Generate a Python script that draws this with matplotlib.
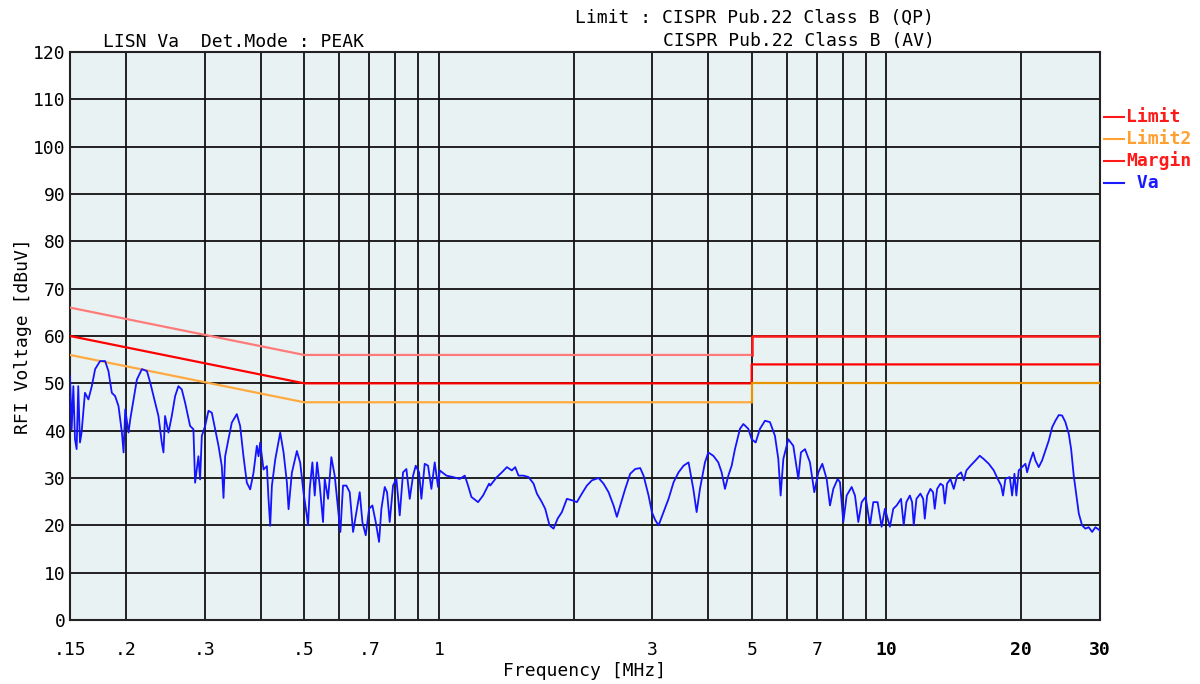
import matplotlib
matplotlib.use("Agg")
import matplotlib.pyplot as plt
from matplotlib.lines import Line2D

# Datos (MHz, dBuV)
va_freq = [
    0.1500, 0.1513, 0.1526, 0.1539, 0.1552, 0.1565, 0.1579, 0.1592, 0.1620, 0.1649,
    0.1678, 0.1707, 0.1751, 0.1797, 0.1828, 0.1860, 0.1892, 0.1925, 0.1959, 0.1976,
    0.1993, 0.2027, 0.2045, 0.2080, 0.2116, 0.2171, 0.2228, 0.2267, 0.2324, 0.2364,
    0.2405, 0.2426, 0.2446, 0.2489, 0.2532, 0.2576, 0.2620, 0.2666, 0.2712, 0.2782,
    0.2830, 0.2855, 0.2904, 0.2929, 0.2955, 0.3006, 0.3058, 0.3111, 0.3165, 0.3220,
    0.3275, 0.3304, 0.3332, 0.3389, 0.3448, 0.3538, 0.3599, 0.3661, 0.3725, 0.3790,
    0.3855, 0.3922, 0.3956, 0.3990, 0.4059, 0.4130, 0.4165, 0.4201, 0.4237, 0.4311,
    0.4423, 0.4500, 0.4578, 0.4617, 0.4696, 0.4819, 0.4902, 0.4987, 0.5073,
    0.5104, 0.5148, 0.5219, 0.5282, 0.5346, 0.5420, 0.5513, 0.5561, 0.5657, 0.5754,
    0.5854, 0.5955, 0.6027, 0.6110, 0.6216, 0.6324, 0.6434, 0.6545, 0.6658, 0.6750,
    0.6867, 0.6986, 0.7106, 0.7229, 0.7354, 0.7443, 0.7572, 0.7663, 0.7768, 0.7903,
    0.8040, 0.8179, 0.8320, 0.8464, 0.8611, 0.8760, 0.8881, 0.9034, 0.9143, 0.9301,
    0.9462, 0.9626, 0.9792, 0.9962, 1.0048, 1.0399, 1.0761, 1.1137, 1.1428, 1.1625,
    1.1825, 1.2237, 1.2556, 1.2950,
    1.3026, 1.3482, 1.3834, 1.4194, 1.4560, 1.4814, 1.5070, 1.5462, 1.5866, 1.6282,
    1.6564, 1.6992, 1.7286, 1.7678, 1.8046, 1.8422, 1.8834, 1.9326, 1.9830, 2.0346,
    2.0876, 2.1420, 2.1978, 2.2744, 2.3338, 2.3946, 2.4568, 2.4992, 2.5426, 2.6088,
    2.6768, 2.7468, 2.8182, 2.8670, 2.9418, 2.9924, 3.0444, 3.0972, 3.1778, 3.2604,
    3.3456, 3.4330, 3.5224, 3.6136,
    3.640, 3.703, 3.767, 3.832, 3.932, 4.000, 4.104, 4.211, 4.284, 4.358,
    4.434, 4.511, 4.588, 4.708, 4.790, 4.914, 4.999, 5.103, 5.218, 5.354,
    5.494, 5.636, 5.734, 5.803, 5.884, 6.036, 6.194, 6.356, 6.442, 6.578,
    6.748, 6.900, 7.045, 7.191, 7.353, 7.480, 7.610, 7.782, 7.875, 8.011,
    8.150, 8.362, 8.507, 8.654, 8.804, 8.986, 9.190, 9.347, 9.556, 9.756,
    9.924, 10.18, 10.36, 10.54,
    10.78, 10.93, 11.08, 11.28, 11.41, 11.51, 11.67, 11.91, 12.08, 12.18,
    12.33, 12.54, 12.71, 12.82, 12.98, 13.20, 13.38, 13.50, 13.66, 13.90,
    14.14, 14.39, 14.68, 14.89, 15.09, 15.41, 15.81, 16.16, 16.50, 16.93,
    17.37, 17.73, 18.04, 18.22, 18.44, 18.86, 19.09, 19.32, 19.51, 19.75,
    20.10, 20.44, 20.62, 20.90, 21.27, 21.52, 21.89, 22.27, 22.66, 23.05,
    23.45, 23.85, 24.27, 24.69, 25.11, 25.55, 25.86, 26.21, 26.57, 26.90,
    27.36, 27.83, 28.31, 28.81, 29.30, 30.00,
]
va_dbuv = [
    51.5, 40.3, 49.4, 38.2, 36.1, 49.4, 37.5, 39.6, 48.0, 46.6,
    49.4, 53.0, 54.7, 54.7, 52.6, 48.0, 47.3, 45.2, 39.6, 35.4,
    44.5, 39.6, 42.4, 46.6, 50.8, 53.0, 52.6, 50.1, 45.9, 43.1,
    37.5, 35.4, 43.1, 39.6, 43.1, 47.3, 49.4, 48.7, 45.9, 41.0,
    40.3, 29.0, 34.6, 29.7, 38.9, 41.0, 44.2, 43.8, 40.3, 36.8,
    32.5, 25.8, 34.6, 38.2, 41.7, 43.5, 41.0, 34.6, 29.0, 27.6,
    31.1, 36.8, 34.6, 37.5, 31.8, 32.5, 25.5, 19.9, 28.3, 33.9,
    39.6, 35.4, 29.0, 23.4, 31.1, 35.7, 33.2, 26.9, 22.0,
    20.0, 27.7, 33.3, 26.3, 33.3, 28.4, 20.7, 29.8, 25.6, 34.4,
    30.5, 23.5, 18.6, 28.4, 28.4, 27.0, 18.6, 22.8, 27.0, 20.7,
    17.9, 23.5, 24.2, 20.7, 16.5, 23.5, 28.1, 27.0, 20.7, 28.4,
    29.8, 22.1, 31.2, 31.9, 25.6, 30.5, 32.6, 31.2, 25.6, 33.0,
    32.6, 27.7, 33.3, 28.1, 31.6, 30.5, 30.2, 29.8, 30.5, 28.4,
    26.0, 24.9, 26.3, 28.8,
    28.4, 30.2, 31.2, 32.3, 31.6, 32.3, 30.5, 30.5, 30.2, 28.8,
    26.7, 24.9, 23.5, 20.0, 19.3, 21.4, 22.8, 25.6, 25.3, 24.9,
    26.7, 28.4, 29.5, 30.0, 28.8, 27.0, 24.2, 21.8, 24.2, 27.7,
    30.9, 31.9, 32.1, 30.5, 26.3, 22.8, 21.1, 20.0, 22.8, 25.6,
    29.1, 31.2, 32.6, 33.3,
    31.6, 27.7, 22.8, 27.7, 33.3, 35.4, 34.7, 33.3, 31.2, 27.7,
    30.5, 32.6, 36.1, 40.4, 41.4, 40.4, 38.2, 37.5, 40.4, 42.1,
    41.8, 38.9, 34.0, 26.3, 34.0, 38.2, 36.8, 29.8, 35.4, 36.1,
    33.3, 27.0, 31.2, 33.0, 29.8, 24.2, 27.7, 29.8, 29.1, 20.7,
    26.3, 28.1, 26.3, 20.7, 24.9, 26.0, 20.0, 24.9, 24.9, 19.7,
    23.5, 19.7, 23.5, 24.2,
    25.6, 20.0, 24.9, 26.3, 24.9, 20.0, 25.6, 26.7, 25.6, 21.4,
    26.3, 27.7, 27.0, 23.5, 27.7, 28.8, 28.4, 24.6, 28.8, 29.8,
    27.7, 30.5, 31.2, 29.5, 31.6, 32.6, 33.7, 34.7, 34.0, 33.0,
    31.6, 29.8, 28.4, 26.3, 29.8, 30.2, 26.3, 30.9, 26.3, 31.6,
    32.3, 33.0, 31.2, 33.3, 35.4, 33.7, 32.3, 33.7, 35.8, 37.9,
    40.7, 42.1, 43.3, 43.2, 41.8, 39.3, 36.1, 30.5, 26.3, 22.5,
    20.0, 19.3, 19.6, 18.6, 19.6, 18.9,
]

# Limites CISPR 22 Clase B
lim_freq = [0.15, 0.5, 5.0, 5.0, 30.0]
qp_dbuv = [66, 56, 56, 60, 60]
av_dbuv = [56, 46, 46, 50, 50]
margin_dbuv = [60, 50, 50, 54, 54]

tick_freqs = [0.15, 0.2, 0.3, 0.4, 0.5, 0.6, 0.7, 0.8, 0.9, 1, 2, 3, 4, 5, 6, 7, 8, 9, 10, 20, 30]
tick_labels = ['.15', '.2', '.3', '', '.5', '', '.7', '', '', '1', '', '3', '', '5', '', '7', '', '', '10', '20', '30']

legend_names = ['Limit', 'Limit2', 'Margin', 'Va']
legend_colors = ['#ff1a1a', '#ffa030', '#ff1a1a', '#1a1aff']

FONT = 'DejaVu Sans Mono'
W, H = 1200, 684

fig = plt.figure(figsize=(12, 6.84), dpi=100)
ax = fig.add_axes([70 / W, 1 - 620 / H, 1030 / W, 568 / H])
ax.set_facecolor('#e9f2f2')

# Lineas de limite
ax.plot(lim_freq[:3], qp_dbuv[:3], color='#ff7a7a', lw=1.6, zorder=3)
ax.plot(lim_freq[2:], qp_dbuv[2:], color='#ff1a1a', lw=1.8, zorder=3)
ax.plot(lim_freq, margin_dbuv, color='#ff0000', lw=1.6, zorder=3)
ax.plot(lim_freq[:3], av_dbuv[:3], color='#ffaa40', lw=1.6, zorder=3)
ax.plot(lim_freq[2:], av_dbuv[2:], color='#e89400', lw=1.6, zorder=3)

# Traza medida
ax.plot(va_freq, va_dbuv, color='#1414ff', lw=1.3, zorder=4)

ax.set_xscale('log')
ax.set_xlim(0.15, 30)
ax.set_ylim(0, 120)
ax.set_xticks(tick_freqs)
ax.set_xticklabels(tick_labels)
ax.xaxis.set_minor_locator(plt.NullLocator())
ax.set_yticks(range(0, 121, 10))
ax.grid(True, color='#111111', lw=1.3, zorder=1)
ax.set_axisbelow(True)
ax.tick_params(length=0, labelsize=13)
ax.tick_params(axis='x', pad=15)
ax.tick_params(axis='y', pad=3)
for lbl in ax.get_xticklabels() + ax.get_yticklabels():
    lbl.set_family(FONT)
for lbl in ax.get_xticklabels():
    if lbl.get_text() in ('10', '20', '30'):
        lbl.set_fontweight('bold')
for s in ax.spines.values():
    s.set_linewidth(1.5)
    s.set_color('#222222')

ax.set_xlabel('Frequency [MHz]', family=FONT, fontsize=13, labelpad=2)
ax.set_ylabel('RFI Voltage [dBuV]', family=FONT, fontsize=13, labelpad=1)

# Textos superiores
fig.text(103 / W, 1 - 42 / H, 'LISN Va  Det.Mode : PEAK', family=FONT, fontsize=13, va='center')
fig.text(575 / W, 1 - 18 / H, 'Limit : CISPR Pub.22 Class B (QP)', family=FONT, fontsize=13, va='center')
fig.text(663 / W, 1 - 41 / H, 'CISPR Pub.22 Class B (AV)', family=FONT, fontsize=13, va='center')

# Leyenda a la derecha
for i, (name, col) in enumerate(zip(legend_names, legend_colors)):
    yy = 1 - (117 + i * 22) / H
    fig.add_artist(Line2D([1104 / W, 1124 / W], [yy, yy], color=col, lw=1.5, transform=fig.transFigure))
    label = name if name != 'Va' else ' Va'
    fig.text(1126 / W, yy, label, color=col, family=FONT, fontsize=13, va='center', fontweight='bold')

fig.savefig('out.png', dpi=100)
